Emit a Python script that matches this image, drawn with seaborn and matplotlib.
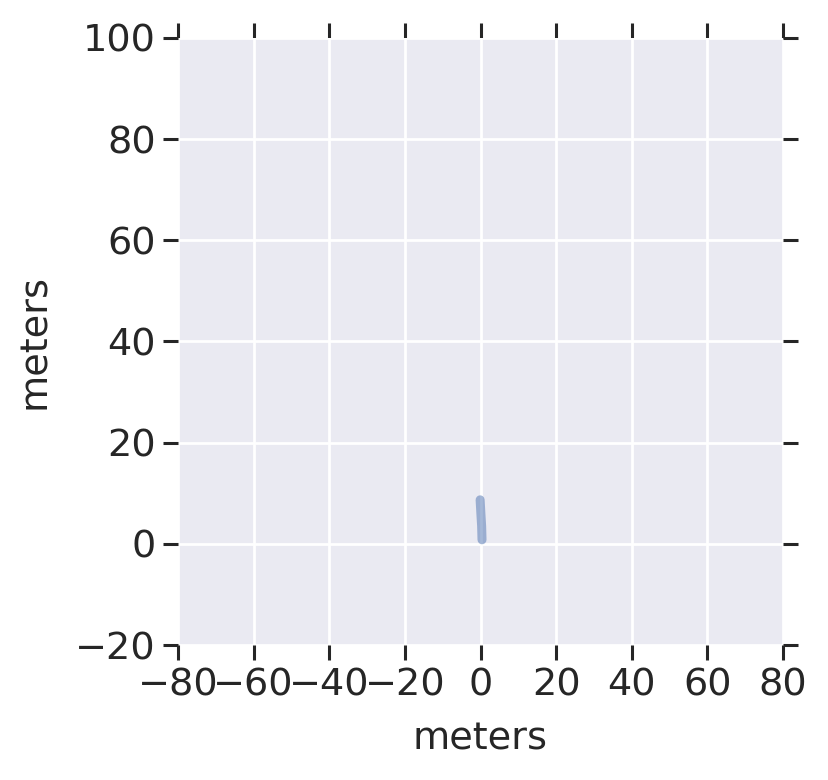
import matplotlib
matplotlib.use("Agg")
import matplotlib.pyplot as plt
import seaborn as sns
import pandas as pd

x_m = [0.4, 0.3, 0.1, -0.1]
y_m = [0.8, 3.5, 6.0, 8.7]
x_ticks = [-80, -60, -40, -20, 0, 20, 40, 60, 80]
y_ticks = [-20, 0, 20, 40, 60, 80, 100]

sns.set_theme(style="darkgrid")
plt.rcParams['font.family'] = ['DejaVu Sans']

fig = plt.figure(figsize=(8.29, 7.8), dpi=100)
ax = fig.add_axes([178/829, 1-645/780, (783-178)/829, (645-38)/780])

df = pd.DataFrame({"x": x_m, "y": y_m})
sns.lineplot(data=df, x="x", y="y", ax=ax, sort=False, color="#4C72B0",
             alpha=0.5, linewidth=6.5, solid_capstyle="round")

ax.set_xlim(-80, 80)
ax.set_ylim(-20, 100)
ax.set_xticks(x_ticks)
ax.set_yticks(y_ticks)
ax.set_xticklabels([str(v).replace("-", "\u2212") for v in x_ticks])
ax.set_yticklabels([str(v).replace("-", "\u2212") for v in y_ticks])
ax.grid(True, color="white", linewidth=2.0)
ax.tick_params(which="major", direction="out", length=11, width=2.2,
               colors="#262626", labelsize=27.5, top=True, right=True,
               bottom=True, left=True,
               labeltop=False, labelright=False, pad=5)
ax.set_xlabel("meters", fontsize=27.5, color="#262626", labelpad=13)
ax.set_ylabel("meters", fontsize=27.5, color="#262626", labelpad=16)
for s in ax.spines.values():
    s.set_visible(False)

fig.savefig("out.png", dpi=100)
